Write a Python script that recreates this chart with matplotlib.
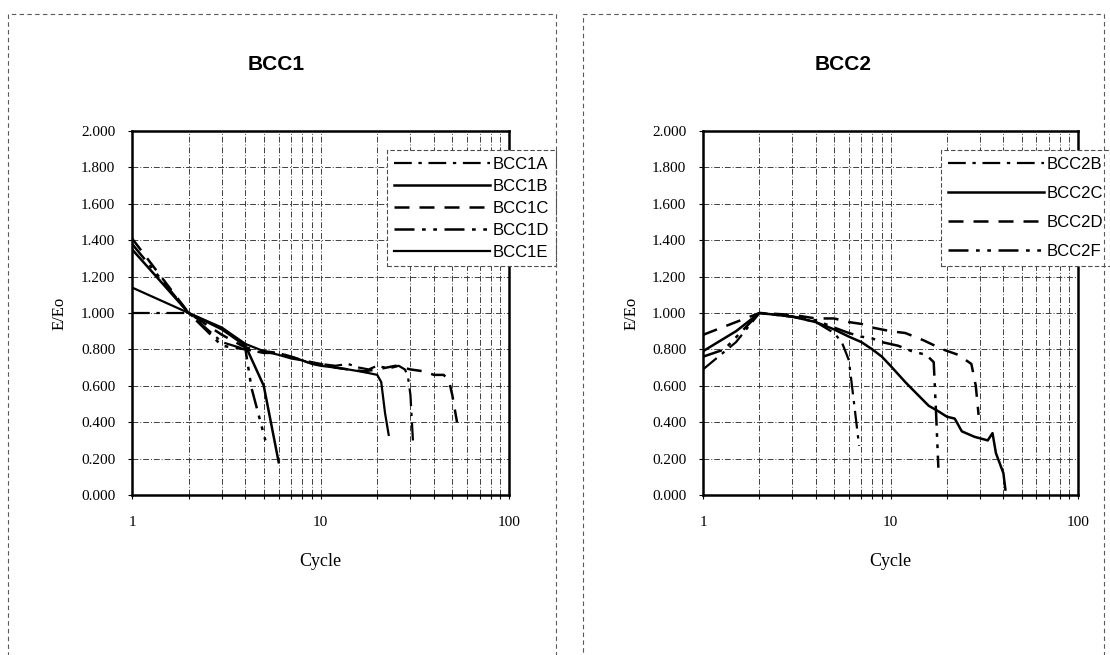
import numpy as np
import matplotlib.pyplot as plt
from matplotlib.patches import Rectangle
from matplotlib.ticker import FixedLocator, FixedFormatter, NullFormatter, LogLocator

# BCC1 series (cycle, E/Eo)
cyc_1a = [1, 2, 3, 4, 5, 6, 7, 8, 9, 10, 12, 14, 16, 18, 20, 22, 24, 26, 28, 29, 30, 31]
e_1a = [1.00, 1.00, 0.84, 0.80, 0.78, 0.78, 0.76, 0.74, 0.72, 0.72, 0.71, 0.72, 0.70, 0.69,
        0.71, 0.70, 0.70, 0.71, 0.69, 0.66, 0.55, 0.28]
cyc_1b = [1, 2, 3, 4, 5, 6]
e_1b = [1.35, 1.00, 0.91, 0.82, 0.60, 0.18]
cyc_1c = [1, 2, 3, 4, 5, 6, 7, 8, 10, 12, 14, 17, 20, 25, 30, 35, 40, 45, 48, 50, 53]
e_1c = [1.41, 1.00, 0.88, 0.81, 0.79, 0.78, 0.76, 0.74, 0.72, 0.70, 0.69, 0.68, 0.69, 0.71,
        0.69, 0.68, 0.66, 0.66, 0.63, 0.55, 0.40]
cyc_1d = [1, 2, 3, 4, 4.3, 5.1]
e_1d = [1.38, 1.00, 0.82, 0.80, 0.59, 0.30]
cyc_1e = [1, 2, 3, 4, 5, 6, 7, 8, 9, 10, 12, 14, 16, 18, 20, 21, 22, 23]
e_1e = [1.14, 1.00, 0.92, 0.83, 0.79, 0.77, 0.75, 0.74, 0.72, 0.71, 0.70, 0.69, 0.68, 0.67,
        0.66, 0.62, 0.45, 0.33]

# BCC2 series
cyc_2b = [1, 1.5, 2, 3, 4, 5, 5.5, 6, 6.4, 6.8]
e_2b = [0.69, 0.84, 1.00, 0.98, 0.95, 0.89, 0.84, 0.74, 0.50, 0.27]
cyc_2c = [1, 1.5, 2, 3, 4, 5, 6, 7, 8, 9, 10, 12, 14, 16, 18, 20, 22, 24, 28, 33, 35,
          36.5, 40, 41]
e_2c = [0.79, 0.90, 1.00, 0.98, 0.95, 0.91, 0.87, 0.84, 0.80, 0.76, 0.71, 0.62, 0.55, 0.49,
        0.46, 0.43, 0.42, 0.35, 0.32, 0.30, 0.34, 0.23, 0.12, 0.03]
cyc_2d = [1, 2, 3, 4, 5, 6, 7, 8, 10, 12, 15, 19, 23, 27, 28.5, 29.5]
e_2d = [0.88, 1.00, 0.99, 0.97, 0.97, 0.95, 0.94, 0.92, 0.90, 0.89, 0.85, 0.80, 0.77, 0.72,
        0.60, 0.44]
cyc_2f = [1, 1.3, 2, 3, 4, 5, 6, 7, 8, 9, 11, 13, 15.5, 17, 17.5, 18]
e_2f = [0.76, 0.80, 1.00, 0.98, 0.96, 0.92, 0.89, 0.87, 0.86, 0.84, 0.82, 0.79, 0.77, 0.73,
        0.45, 0.15]

yticks = [0.0, 0.2, 0.4, 0.6, 0.8, 1.0, 1.2, 1.4, 1.6, 1.8, 2.0]
xticks = [1, 10, 100]

dashdot = (0, (8, 3, 1.5, 3))
dashed = (0, (6, 4))
dashdotdot = (0, (8, 3, 1.5, 3, 1.5, 3))

serif = 'Liberation Serif'
sans = 'Liberation Sans'

fig = plt.figure(figsize=(11.1, 6.55), dpi=100)

# dashed outer frames round each panel
for x0, x1 in [(8, 556), (583, 1104)]:
    fig.patches.append(Rectangle((x0 / 1110, -0.01), (x1 - x0) / 1110, 1.01 - 14 / 655,
                                 transform=fig.transFigure, fill=False, edgecolor='0.35',
                                 linestyle=(0, (4, 3)), linewidth=0.8))


def setup(ax):
    ax.set_xscale('log')
    ax.set_xlim(1, 100)
    ax.set_ylim(0, 2.0)
    ax.xaxis.set_major_locator(FixedLocator(xticks))
    ax.xaxis.set_major_formatter(FixedFormatter([str(t) for t in xticks]))
    ax.xaxis.set_minor_locator(LogLocator(base=10, subs=range(2, 10)))
    ax.xaxis.set_minor_formatter(NullFormatter())
    ax.set_yticks(yticks)
    ax.set_yticklabels(['%.3f' % t for t in yticks])
    ax.grid(which='both', color='0.25', linestyle=(0, (6, 2, 1, 2)), linewidth=0.7)
    ax.tick_params(which='both', direction='out', length=3, width=0.8, labelsize=11)
    ax.tick_params(axis='y', pad=9)
    ax.tick_params(axis='x', pad=12)
    for lab in ax.get_xticklabels() + ax.get_yticklabels():
        lab.set_fontfamily(serif)
    for s in ax.spines.values():
        s.set_linewidth(1.8)


ax1 = fig.add_axes([132 / 1110, 160 / 655, 377 / 1110, 364 / 655])
ax1.plot(cyc_1a, e_1a, color='k', lw=1.6, linestyle=dashdot, label='BCC1A')
ax1.plot(cyc_1b, e_1b, color='k', lw=1.8, linestyle='-', label='BCC1B')
ax1.plot(cyc_1c, e_1c, color='k', lw=1.8, linestyle=dashed, label='BCC1C')
ax1.plot(cyc_1d, e_1d, color='k', lw=1.8, linestyle=dashdotdot, label='BCC1D')
ax1.plot(cyc_1e, e_1e, color='k', lw=1.6, linestyle='-', label='BCC1E')
setup(ax1)

ax2 = fig.add_axes([703 / 1110, 160 / 655, 375 / 1110, 364 / 655])
ax2.plot(cyc_2b, e_2b, color='k', lw=1.6, linestyle=dashdot, label='BCC2B')
ax2.plot(cyc_2c, e_2c, color='k', lw=1.8, linestyle='-', label='BCC2C')
ax2.plot(cyc_2d, e_2d, color='k', lw=1.8, linestyle=dashed, label='BCC2D')
ax2.plot(cyc_2f, e_2f, color='k', lw=1.8, linestyle=dashdotdot, label='BCC2F')
setup(ax2)

for ax, right_px, lsp in [(ax1, 556, 0.42), (ax2, 1110, 0.85)]:
    pos = ax.get_position()
    bx = (right_px - pos.x0 * 1110) / (pos.width * 1110)
    by = (495 - 150) / 364
    leg = ax.legend(loc='upper right', bbox_to_anchor=(bx, by), fancybox=False,
                    framealpha=1, edgecolor='0.3', handlelength=5.8, handletextpad=0.15,
                    borderpad=0.4, labelspacing=lsp, borderaxespad=0,
                    prop={'family': sans, 'size': 12})
    leg.get_frame().set_linestyle((0, (4, 2)))
    leg.get_frame().set_linewidth(0.8)

fig.text(276 / 1110, 1 - 64 / 655, 'BCC1', ha='center', va='center', fontsize=15,
         fontweight='bold', family=sans)
fig.text(843 / 1110, 1 - 64 / 655, 'BCC2', ha='center', va='center', fontsize=15,
         fontweight='bold', family=sans)

for ax, xl in [(ax1, 60), (ax2, 632)]:
    pos = ax.get_position()
    fig.text(xl / 1110, pos.y0 + pos.height / 2, 'E/Eo', rotation=90, ha='center',
             va='center', fontsize=12, family=serif)
    fig.text(pos.x0 + pos.width / 2, 1 - 562 / 655, 'Cycle', ha='center', va='center',
             fontsize=13, family=serif)

fig.savefig('out.png', dpi=100)
